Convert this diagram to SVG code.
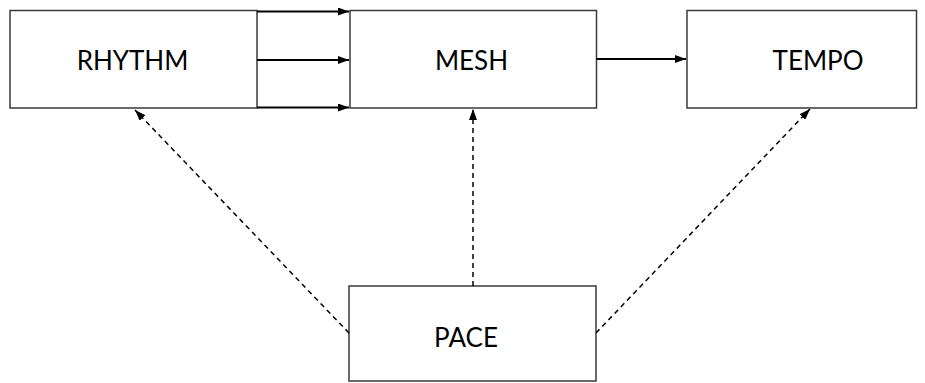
<svg xmlns="http://www.w3.org/2000/svg" width="925" height="383" viewBox="0 0 925 383">
<style>
.box{fill:#fff;stroke:#3a3a3a;stroke-width:1.5}
.lbl{font-family:Lato,"Open Sans",sans-serif;font-size:26px;fill:#000;text-anchor:middle}
.solid{stroke:#000;stroke-width:2;fill:none}
.dash{stroke:#000;stroke-width:1.5;fill:none;stroke-dasharray:5 4}
</style>
<defs>
<marker id="ah" viewBox="0 0 11 8" refX="11" refY="4" markerWidth="11" markerHeight="8" markerUnits="userSpaceOnUse" orient="auto">
<path d="M0,0 L11,4 L0,8 Z" fill="#000"/>
</marker>
</defs>
<g id="rhythm"><rect class="box" x="10" y="10.5" width="247" height="97.5"/><text class="lbl" x="132.5" y="70">RHYTHM</text></g>
<g id="mesh"><rect class="box" x="350" y="10.5" width="246.5" height="97.5"/><text class="lbl" x="471.5" y="70">MESH</text></g>
<g id="tempo"><rect class="box" x="687" y="10.5" width="229.5" height="97.5"/><text class="lbl" x="818" y="70">TEMPO</text></g>
<g id="pace"><rect class="box" x="349" y="286" width="247" height="95"/><text class="lbl" x="466" y="346.5">PACE</text></g>
<g id="connectors">
<path class="solid" d="M257,11.5 H349" marker-end="url(#ah)"/>
<path class="solid" d="M257,60 H349" marker-end="url(#ah)"/>
<path class="solid" d="M257,107.5 H349" marker-end="url(#ah)"/>
<path class="solid" d="M596.5,59 H686" marker-end="url(#ah)"/>
<path class="dash" d="M349,333 L135,110" marker-end="url(#ah)"/>
<path class="dash" d="M473,286 L473,109" marker-end="url(#ah)"/>
<path class="dash" d="M596,333 L810,109" marker-end="url(#ah)"/>
</g>
</svg>
